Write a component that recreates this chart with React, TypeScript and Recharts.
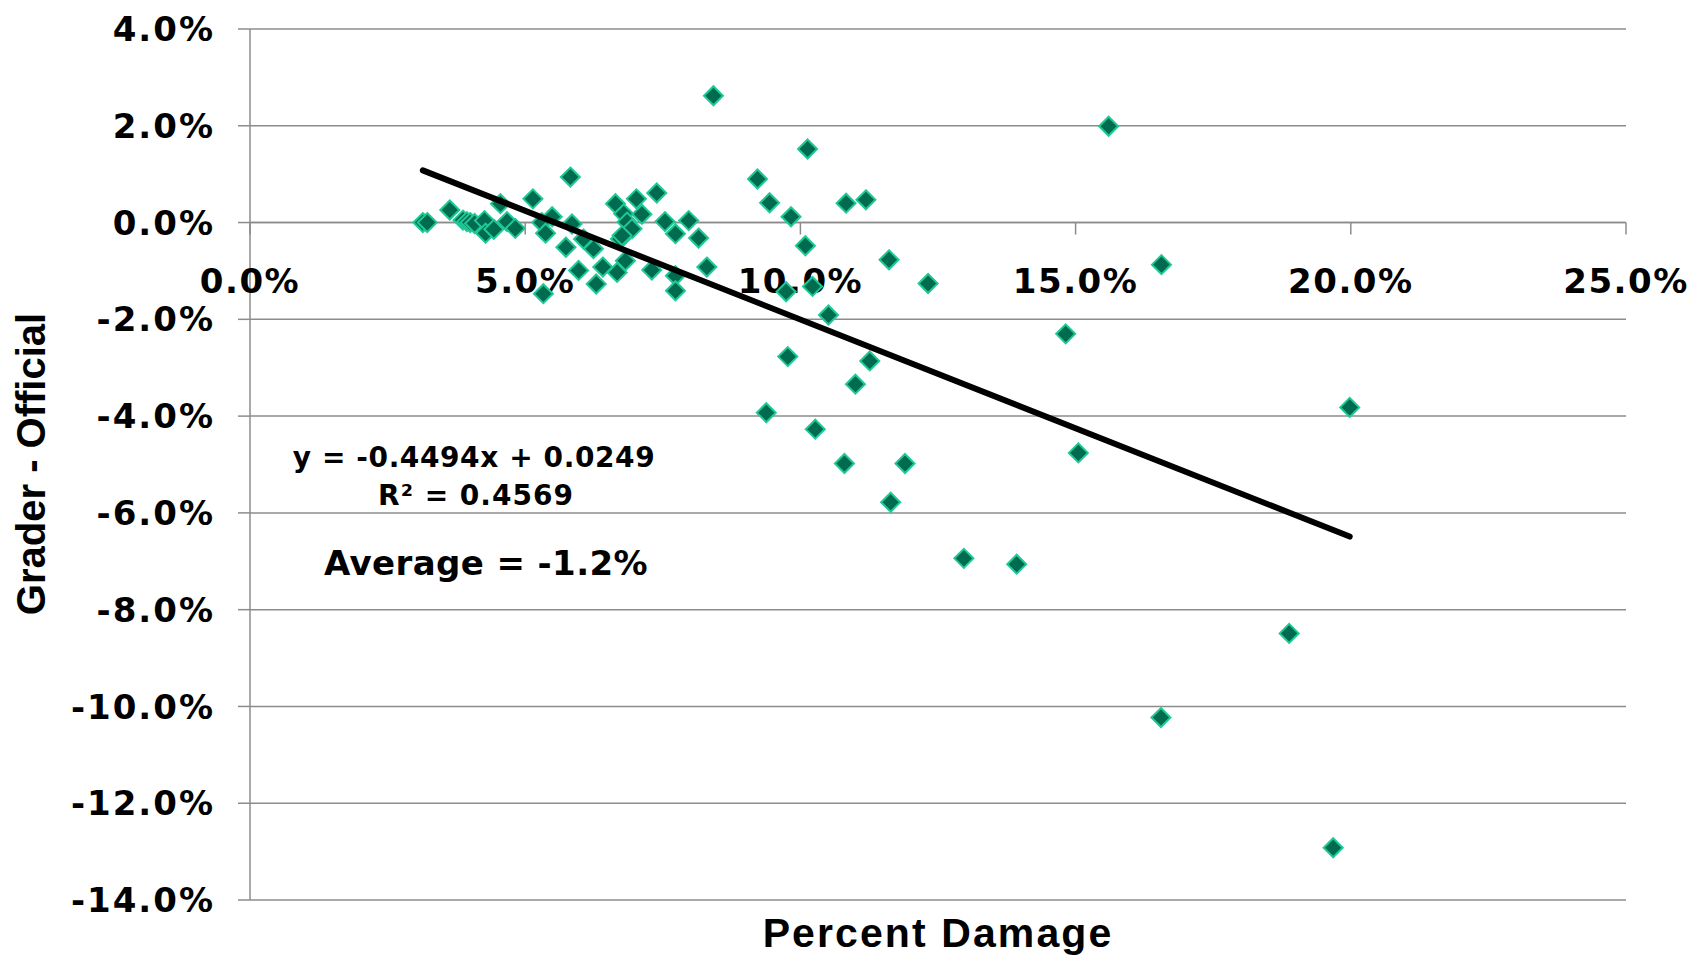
import React from "react";
import {
  ScatterChart,
  Scatter,
  XAxis,
  YAxis,
  CartesianGrid,
  ReferenceLine,
  ReferenceDot,
} from "recharts";

// Percent damage (x, %) and Grader - Official difference (y, %)
const pctDamage = [
  3.14, 3.22, 3.63, 3.87, 3.94, 4.0, 4.08, 4.26, 4.28, 4.43, 4.55, 4.67, 4.82,
  5.14, 5.3, 5.37, 5.49, 5.82, 5.85, 5.74, 5.33, 5.97, 6.06, 6.24, 6.29, 6.41,
  6.64, 6.67, 6.73, 6.79, 6.85, 6.94, 6.76, 6.82, 7.02, 7.12, 7.3, 7.39, 7.54,
  7.73, 7.73, 7.73, 7.97, 8.15, 8.3, 8.42, 10.13, 9.22, 9.44, 9.83, 10.83,
  11.19, 10.09, 11.61, 12.32, 9.74, 10.22, 10.51, 14.82, 9.77, 11.26, 11.0,
  9.38, 10.27, 10.8, 11.9, 11.64, 15.05, 12.97, 13.93, 16.56, 15.6, 19.98,
  18.88, 16.55, 19.68,
];
const graderDiff = [
  0.0, 0.0, 0.26, 0.05, 0.02, 0.0, -0.02, 0.04, -0.22, -0.14, 0.39, 0.02, -0.12,
  0.49, 0.0, -0.22, 0.12, 0.94, -0.03, -0.51, -1.47, -0.99, -0.34, -0.54, -1.27,
  -0.92, 0.39, -1.03, -0.34, 0.18, 0.01, -0.13, -0.27, -0.79, 0.49, 0.17, -0.98,
  0.61, 0.02, -0.23, -1.1, -1.41, 0.04, -0.32, -0.92, 2.62, 1.52, 0.9, 0.41,
  0.12, 0.4, 0.47, -0.48, -0.77, -1.26, -1.43, -1.32, -1.91, -2.3, -2.77,
  -2.86, -3.34, -3.93, -4.27, -4.98, -4.98, -5.78, -4.76, -6.94, -7.06, -0.87,
  1.99, -3.82, -8.49, -10.23, -12.92,
];

const xTicks = [0, 5, 10, 15, 20, 25];
const yTicks = [-14, -12, -10, -8, -6, -4, -2, 0, 2, 4];

// Linear trendline (Excel): y = -0.4494x + 0.0249  (in percent units: intercept 2.49)
const trendSlope = -0.4494;
const trendIntercept = 2.49;
const equationText = "y = -0.4494x + 0.0249";
const r2Text = "R\u00B2 = 0.4569";
const averageText = "Average = -1.2%";
const xTitle = "Percent Damage";
const yTitle = "Grader - Official";

const points = pctDamage.map((x, i) => ({ x, y: graderDiff[i] }));
const xMin = Math.min(...pctDamage);
const xMax = Math.max(...pctDamage);
const trend = [
  { x: xMin, y: trendSlope * xMin + trendIntercept },
  { x: xMax, y: trendSlope * xMax + trendIntercept },
];

const GRID = "#8c8c8c";
const TICK_FONT = "'DejaVu Sans', Verdana, sans-serif";
const TITLE_FONT = "'Liberation Sans', Arial, sans-serif";

const fmt = (v: number) => `${v.toFixed(1)}%`;

const Diamond = (props: any) => {
  const { cx, cy } = props;
  if (cx == null || cy == null) return <g />;
  const h = 9.5;
  return (
    <path
      d={`M${cx},${cy - h}L${cx + h},${cy}L${cx},${cy + h}L${cx - h},${cy}Z`}
      fill="#006b4f"
      stroke="#1fc996"
      strokeWidth={2}
    />
  );
};

const makeXTick = (value: number) => (props: any) => {
  const { cx, cy } = props;
  if (cx == null || cy == null) return <g />;
  return (
    <g>
      <line x1={cx} y1={cy} x2={cx} y2={cy + 12} stroke={GRID} strokeWidth={1.5} />
      <text
        x={cx}
        y={cy + 70.5}
        textAnchor="middle"
        fontFamily={TICK_FONT}
        fontWeight="bold"
        fontSize={34}
        letterSpacing={1.5}
        fill="#000"
      >
        {fmt(value)}
      </text>
    </g>
  );
};

export default function App() {
  return (
    <div
      style={{
        position: "absolute",
        left: 0,
        top: 0,
        width: 1694,
        height: 955,
        background: "#fff",
      }}
    >
      <ScatterChart
        width={1694}
        height={955}
        margin={{ top: 29, right: 68, bottom: 55, left: 0 }}
      >
        <CartesianGrid
          horizontal={true}
          vertical={false}
          stroke={GRID}
          strokeWidth={1.5}
        />
        <XAxis
          type="number"
          dataKey="x"
          domain={[0, 25]}
          ticks={xTicks}
          hide
          allowDataOverflow
        />
        <YAxis
          type="number"
          dataKey="y"
          domain={[-14, 4]}
          ticks={yTicks}
          interval={0}
          width={250}
          tickSize={12}
          tickMargin={23}
          axisLine={{ stroke: GRID, strokeWidth: 1.5 }}
          tickLine={{ stroke: GRID, strokeWidth: 1.5 }}
          tickFormatter={fmt}
          tick={{
            fontFamily: TICK_FONT,
            fontWeight: "bold",
            fontSize: 34,
            fill: "#000",
            letterSpacing: 2,
          }}
          allowDataOverflow
        />
        <ReferenceLine y={0} stroke={GRID} strokeWidth={1.5} />
        {xTicks.map((t) => (
          <ReferenceDot
            key={t}
            x={t}
            y={0}
            r={0}
            ifOverflow="visible"
            shape={makeXTick(t)}
          />
        ))}
        <Scatter
          data={points}
          dataKey="y"
          shape={Diamond}
          isAnimationActive={false}
        />
        <Scatter
          data={trend}
          dataKey="y"
          line={{ stroke: "#000", strokeWidth: 6, strokeLinecap: "round" }}
          lineType="joint"
          shape={() => <g />}
          isAnimationActive={false}
        />
      </ScatterChart>
      <svg
        width={1694}
        height={955}
        style={{ position: "absolute", left: 0, top: 0, pointerEvents: "none" }}
      >
        <text
          x={474}
          y={467}
          textAnchor="middle"
          fontFamily={TICK_FONT}
          fontWeight="bold"
          fontSize={28}
          letterSpacing={0.6}
          fill="#000"
        >
          {equationText}
        </text>
        <text
          x={476}
          y={505}
          textAnchor="middle"
          fontFamily={TICK_FONT}
          fontWeight="bold"
          fontSize={28}
          letterSpacing={1}
          fill="#000"
        >
          {r2Text}
        </text>
        <text
          x={486}
          y={575}
          textAnchor="middle"
          fontFamily={TICK_FONT}
          fontWeight="bold"
          fontSize={34}
          letterSpacing={0.4}
          fill="#000"
        >
          {averageText}
        </text>
        <text
          x={938}
          y={946.5}
          textAnchor="middle"
          fontFamily={TITLE_FONT}
          fontWeight="bold"
          fontSize={41}
          letterSpacing={2.1}
          fill="#000"
        >
          {xTitle}
        </text>
        <text
          x={45}
          y={464}
          textAnchor="middle"
          transform="rotate(-90 45 464)"
          fontFamily={TITLE_FONT}
          fontWeight="bold"
          fontSize={40}
          fill="#000"
        >
          {yTitle}
        </text>
      </svg>
    </div>
  );
}
